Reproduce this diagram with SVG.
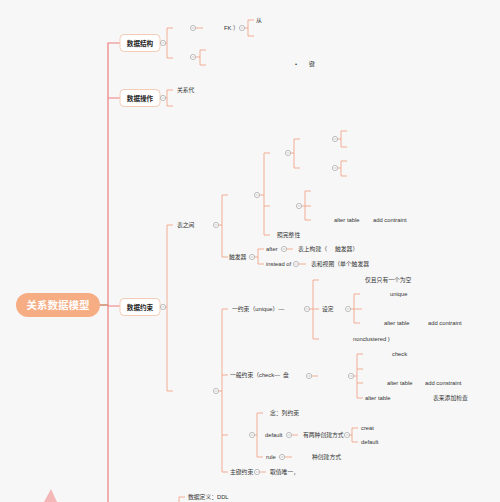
<svg xmlns="http://www.w3.org/2000/svg" width="500" height="502" viewBox="0 0 500 502">
<defs>
<style>
.t{font-family:"Liberation Sans","Noto Sans CJK SC",sans-serif;font-size:5.8px;fill:#333;dominant-baseline:central}
.h{font-family:"Liberation Sans","Noto Sans CJK SC",sans-serif;font-size:6.6px;font-weight:bold;fill:#222;text-anchor:middle;dominant-baseline:central}
.l1{fill:#fff;stroke:#f3cdb8;stroke-width:1}
.main{fill:none;stroke:#ef7f7f;stroke-width:1.2}
.br{fill:none;stroke:#f0a488;stroke-width:0.9}
.c{fill:#fff;stroke:#a0a0a0;stroke-width:0.7}
</style>
<g id="circ"><circle class="c" cx="0" cy="0" r="2.6"/><path d="M-1.4 0H1.4" stroke="#a0a0a0" stroke-width="0.6"/></g>
</defs>
<rect width="500" height="502" fill="#f7f7f7"/>
<g id="connectors">
<path class="main" d="M100 305H108M120 43H108V502M108 98H120M108 306H120" />
<path d="M100 305H108" stroke="#c9956f" stroke-width="1.2"/>
<!-- 数据结构 -->
<path class="br" d="M165.6 43H167M173 28H167V58H173M195.6 28H203M244.6 28H248M254 20H248V36H254M195.6 57H200M206 50H200V65H206"/>
<!-- 数据操作 -->
<path class="br" d="M165.6 98H167M173 90H167V106H173"/>
<!-- 数据约束 -->
<path class="br" d="M165.6 307H167M173 225H167V391H173"/>
<path class="br" d="M218.6 225H222M228 195H222V257H228"/>
<path class="br" d="M259.6 195H264M270 153H264V235H270M264 206H270"/>
<path class="br" d="M290.6 153H294M300 139H294V168H300M337.6 139H341M347 131H341V147H347M337.6 168H341M347 161H341V176H347"/>
<path class="br" d="M301.6 206H305M311 191H305V220H311M305 206H311"/>
<path class="br" d="M254.6 257H258M264 249H258V264H264M286.6 249H293M298.6 264H306"/>
<path class="br" d="M218.6 391H222M228 309H222V472H228M222 375H228M222 435H228"/>
<path class="br" d="M309.6 309H313M319 280H313V339H319M313 309H319M350.6 309H354M360 294H354V323H360M354 309H362"/>
<path class="br" d="M311.6 376H318M353.6 376H357M363 354H357V398H363M357 369H363M357 383H363"/>
<path class="br" d="M254.6 435H257M263 413H257V457H263M291.6 435H298M349.6 435H352M358 428H352V442H358M284.6 457H292"/>
<path class="br" d="M259.6 472H266"/>
<path class="br" d="M185 497H179V502"/>
</g>
<g id="root">
<rect x="16" y="293" width="84" height="24" rx="12" fill="#f6ad84"/>
<text x="58" y="305" font-family="Liberation Sans,'Noto Sans CJK SC',sans-serif" font-size="10.5" font-weight="bold" fill="#fff" text-anchor="middle" dominant-baseline="central">关系数据模型</text>
</g>
<g id="n-jiegou">
<rect class="l1" x="120" y="34.5" width="40" height="17" rx="4"/>
<text class="h" x="140" y="43">数据结构</text>
<use href="#circ" x="163" y="43"/>
<use href="#circ" x="193" y="28"/>
<text class="t" x="224" y="28">FK ）</text>
<use href="#circ" x="242" y="28"/>
<text class="t" x="256" y="20">从</text>
<use href="#circ" x="193" y="57"/>
<text class="t" x="295" y="64">•</text>
<text class="t" x="309" y="64">键</text>
</g>
<g id="n-caozuo">
<rect class="l1" x="120" y="89.5" width="40" height="17" rx="4"/>
<text class="h" x="140" y="98">数据操作</text>
<use href="#circ" x="163" y="98"/>
<text class="t" x="177" y="90">关系代</text>
</g>
<g id="n-yueshu">
<rect class="l1" x="120" y="298.5" width="40" height="17" rx="4"/>
<text class="h" x="140" y="307">数据约束</text>
<use href="#circ" x="163" y="307"/>
</g>
<g id="n-biaozhijian">
<text class="t" x="177" y="225">表之间</text>
<use href="#circ" x="216" y="225"/>
<use href="#circ" x="257" y="195"/>
<use href="#circ" x="288" y="153"/>
<use href="#circ" x="335" y="139"/>
<use href="#circ" x="335" y="168"/>
<use href="#circ" x="299" y="206"/>
<text class="t" x="334" y="220">alter table</text>
<text class="t" x="373" y="220">add contraint</text>
<text class="t" x="277" y="235">照完整性</text>
</g>
<g id="n-chufaqi">
<text class="t" x="229" y="257">触发器</text>
<use href="#circ" x="252" y="257"/>
<text class="t" x="266" y="249">after</text>
<use href="#circ" x="284" y="249"/>
<text class="t" x="298" y="249">表上构建（</text>
<text class="t" x="335" y="249">触发器）</text>
<text class="t" x="266" y="264">instead of</text>
<use href="#circ" x="296" y="264"/>
<text class="t" x="311" y="264">表和视图（单个触发器</text>
</g>
<g id="n-zuzhi">
<use href="#circ" x="216" y="391"/>
</g>
<g id="n-unique">
<text class="t" x="232" y="309">一约束（unique）—</text>
<use href="#circ" x="307" y="309"/>
<text class="t" x="365" y="280">仅且只有一个为空</text>
<text class="t" x="322" y="309">设定</text>
<use href="#circ" x="348" y="309"/>
<text class="t" x="390" y="294">unique</text>
<text class="t" x="384" y="323">alter table</text>
<text class="t" x="428" y="323">add contraint</text>
<text class="t" x="353" y="339">nonclustered )</text>
</g>
<g id="n-check">
<text class="t" x="230" y="375">一般约束（check—</text>
<text class="t" x="283" y="375">盘</text>
<use href="#circ" x="309" y="376"/>
<use href="#circ" x="351" y="376"/>
<text class="t" x="392" y="354">check</text>
<text class="t" x="387" y="383">alter table</text>
<text class="t" x="425" y="383">add constraint</text>
<text class="t" x="365" y="398">alter table</text>
<text class="t" x="433" y="398">表来添加检查</text>
</g>
<g id="n-default">
<use href="#circ" x="252" y="435"/>
<text class="t" x="270" y="413">念：列约束</text>
<text class="t" x="265" y="435">default</text>
<use href="#circ" x="289" y="435"/>
<text class="t" x="303" y="435">有两种创建方式</text>
<use href="#circ" x="347" y="435"/>
<text class="t" x="361" y="428">creat</text>
<text class="t" x="361" y="442">default</text>
<text class="t" x="266" y="457">rule</text>
<use href="#circ" x="282" y="457"/>
<text class="t" x="312" y="457">种创建方式</text>
</g>
<g id="n-zhujian">
<text class="t" x="230" y="472">主键约束</text>
<use href="#circ" x="257" y="472"/>
<text class="t" x="270" y="472">取值唯一，</text>
</g>
<g id="n-ddl">
<text class="t" x="188" y="497">数据定义：DDL</text>
</g>
<polygon points="44,502 51,489 57,502" fill="#f2a6a6" opacity="0.8"/>
</svg>
